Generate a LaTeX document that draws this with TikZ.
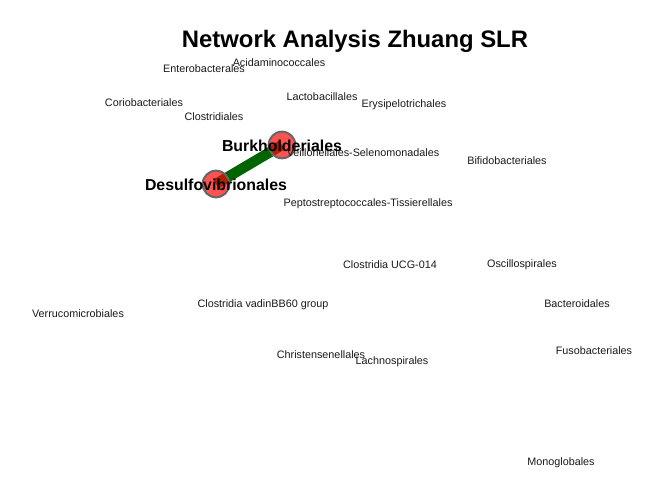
\documentclass[tikz,border=0pt]{standalone}
\usepackage{fontspec}
\setmainfont{Liberation Sans}
\usetikzlibrary{backgrounds}
\definecolor{edgegreen}{RGB}{0,100,0}
\definecolor{nodered}{RGB}{255,0,0}
\tikzset{
  taxon/.style={circle, draw=black!60, line width=1.5pt, fill=nodered, fill opacity=0.68,
                minimum size=20pt, inner sep=0pt},
  lbl/.style={font=\fontsize{8.1}{9.5}\selectfont, inner sep=0pt, text=black!90, yshift=-1.1pt},
  lblb/.style={font=\fontsize{11.9}{14}\selectfont\bfseries, inner sep=0pt, text=black, yshift=-0.8pt},
  ttl/.style={font=\fontsize{17.9}{21}\selectfont\bfseries, inner sep=0pt, yshift=-1pt},
  link/.style={draw=edgegreen, line width=7.8pt},
}

\begin{document}
\begin{tikzpicture}[x=0.75pt,y=-0.75pt]
\useasboundingbox (0,0) rectangle (672,480);

% ===================== TITLE =====================
\node[ttl] (title) at (355,40) {Network Analysis Zhuang SLR};

% ===================== CONNECTED TAXA =====================
\node[taxon] (burk) at (282,145) {};
\node[taxon] (desulf) at (216,184) {};
\begin{scope}[on background layer]
  \draw[link] (desulf.center) -- (burk.center);
\end{scope}

% ===================== ISOLATED TAXA =====================
\node[lbl] (entero) at (204,67) {Enterobacterales};
\node[lbl] (acida) at (279,61) {Acidaminococcales};
\node[lbl] (corio) at (144,101) {Coriobacteriales};
\node[lbl] (clostr) at (214,115) {Clostridiales};
\node[lbl] (lacto) at (322,95) {Lactobacillales};
\node[lbl] (erysi) at (404,103) {Erysipelotrichales};
\node[lbl] (veill) at (363,151) {Veillonellales-Selenomonadales};
\node[lbl] (bifido) at (507,159) {Bifidobacteriales};
\node[lbl] (pepto) at (368,202) {Peptostreptococcales-Tissierellales};
\node[lbl] (ucg) at (390,263) {Clostridia UCG-014};
\node[lbl] (oscil) at (522,263) {Oscillospirales};
\node[lbl] (vadin) at (263,303) {Clostridia vadinBB60 group};
\node[lbl] (verru) at (78,312) {Verrucomicrobiales};
\node[lbl] (bacte) at (577,302) {Bacteroidales};
\node[lbl] (christ) at (321,353) {Christensenellales};
\node[lbl] (lachno) at (392,360) {Lachnospirales};
\node[lbl] (fuso) at (594,349) {Fusobacteriales};
\node[lbl] (mono) at (561,461) {Monoglobales};

% ===================== LABELS OF CONNECTED TAXA =====================
\node[lblb] (burk_l) at (burk) {Burkholderiales};
\node[lblb] (desulf_l) at (desulf) {Desulfovibrionales};

\end{tikzpicture}
\end{document}
